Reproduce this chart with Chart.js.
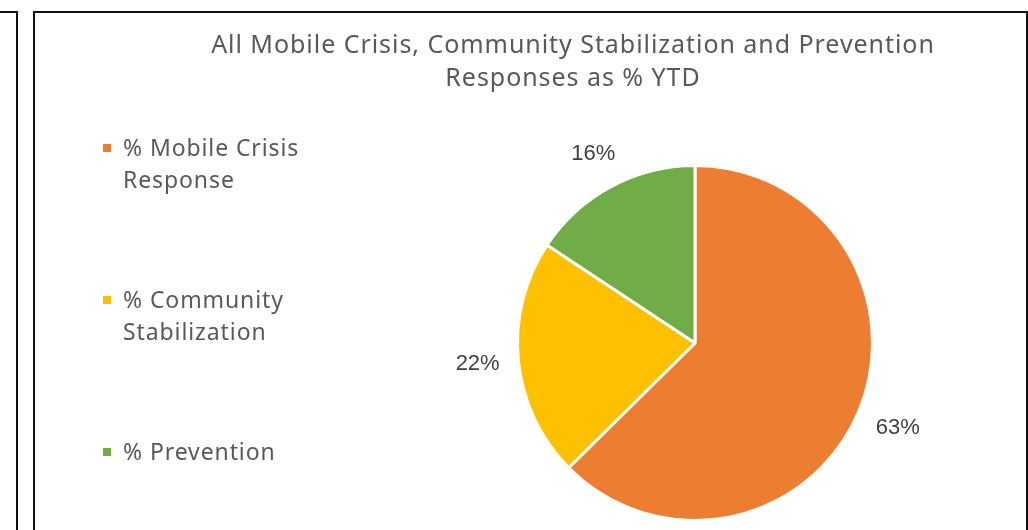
<!DOCTYPE html>
<html>
<head>
<meta charset="utf-8">
<script src="https://cdn.jsdelivr.net/npm/chart.js@4"></script>
<style>
  body { margin: 0; background: #fff; width: 1028px; height: 530px; overflow: hidden; position: relative; font-family: "Noto Sans", sans-serif; }
  #leftFrame { position: absolute; left: -10px; top: 11px; width: 28px; height: 540px; border: 2px solid #111; box-sizing: border-box; }
  #frame { position: absolute; left: 33px; top: 11px; width: 995px; height: 540px; border: 2px solid #111; box-sizing: border-box; }
  #title { position: absolute; left: 33px; width: 1080px; top: 27px; text-align: center; color: #595959; font-size: 25px; line-height: 33px; letter-spacing: 0.95px; }
  #legend { position: absolute; left: 103px; top: 131px; color: #595959; font-size: 23px; line-height: 32px; letter-spacing: 0.9px; }
  .item { position: relative; padding-left: 20px; height: 152px; }
  .box { position: absolute; left: 0; top: 13px; width: 8px; height: 8px; }
  #wrap { position: absolute; left: 0; top: 0; width: 1028px; height: 530px; }
</style>
</head>
<body>
<div id="leftFrame"></div>
<div id="frame"></div>
<div id="wrap"><canvas id="pie"></canvas></div>
<div id="title">All Mobile Crisis, Community Stabilization and Prevention<br>Responses as % YTD</div>
<div id="legend"></div>
<script>
var categories = ['% Mobile Crisis Response', '% Community Stabilization', '% Prevention'];
var legendLines = [['% Mobile Crisis', 'Response'], ['% Community', 'Stabilization'], ['% Prevention']];
var values = [62.6, 21.7, 15.7];
var colors = ['#ED7D31', '#FFC000', '#70AD47'];

function buildLegend() {
  var html = '';
  legendLines.forEach(function(lines, i) {
    html += '<div class="item"><span class="box" style="background:' + colors[i] + '"></span>' + lines.join('<br>') + '</div>';
  });
  document.getElementById('legend').innerHTML = html;
}

// data labels outside the slices, box edge kept a fixed gap from the circle
var outsideLabels = {
  id: 'outsideLabels',
  afterDatasetsDraw: function(chart) {
    var ctx = chart.ctx;
    var meta = chart.getDatasetMeta(0);
    ctx.save();
    ctx.font = '22px "Liberation Sans", Arial, sans-serif';
    ctx.fillStyle = '#404040';
    ctx.textAlign = 'center';
    ctx.textBaseline = 'middle';
    meta.data.forEach(function(arc, i) {
      var text = Math.round(values[i]) + '%';
      var w = ctx.measureText(text).width, h = 20;
      var mid = (arc.startAngle + arc.endAngle) / 2;
      var cx = Math.cos(mid), cy = Math.sin(mid);
      var d = arc.outerRadius + 18 + Math.abs(cx) * w / 2 + Math.abs(cy) * h / 2;
      ctx.fillText(text, arc.x + cx * d, arc.y + cy * d);
    });
    ctx.restore();
  }
};

function drawChart() {
  var ctx = document.getElementById('pie');
  return new Chart(ctx, {
    type: 'pie',
    data: {
      labels: categories,
      datasets: [{
        data: values,
        backgroundColor: colors,
        borderColor: '#ffffff',
        borderWidth: 3
      }]
    },
    options: {
      responsive: true,
      maintainAspectRatio: false,
      animation: false,
      layout: { padding: { left: 516, right: 154, top: 164, bottom: 8 } },
      plugins: {
        legend: { display: false },
        tooltip: { enabled: false }
      }
    },
    plugins: [outsideLabels]
  });
}

buildLegend();
drawChart();
</script>
</body>
</html>
